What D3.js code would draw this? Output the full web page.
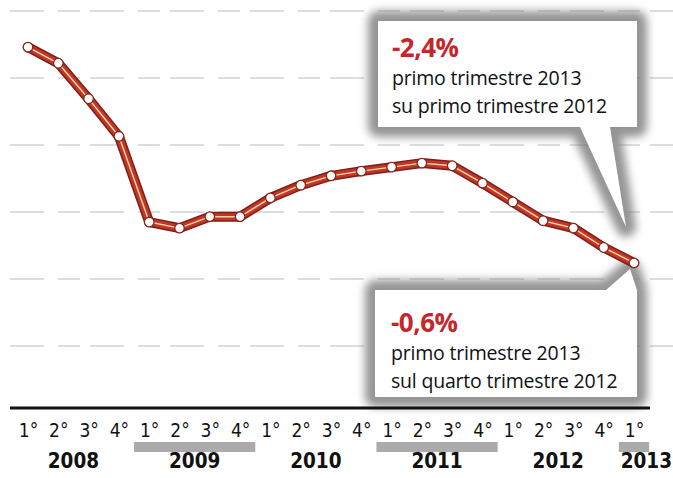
<!DOCTYPE html>
<html>
<head>
<meta charset="utf-8">
<script src="https://cdn.jsdelivr.net/npm/d3@7"></script>
<style>
  html, body { margin: 0; padding: 0; background: #ffffff; }
  svg { display: block; }
</style>
</head>
<body>
<svg id="chart" width="673" height="478"></svg>
<script>
// Italian GDP, quarterly (chained values, billions of euro, estimated)
const years = ["2008", "2009", "2010", "2011", "2012", "2013"];
const quarterLabels = ["1°", "2°", "3°", "4°"];
const quartersPerYear = [4, 4, 4, 4, 4, 1];
const gdp = [404.6, 402.2, 396.9, 391.3, 378.5, 377.6, 379.3, 379.3,
             382.1, 384.0, 385.4, 386.1, 386.7, 387.3, 386.9, 384.3,
             381.5, 378.7, 377.6, 374.7, 372.4];
const gridValues = [360, 370, 380, 390, 400, 410];
const highlightedYears = ["2009", "2011", "2013"];

// Callout texts
const calloutYear = { value: "-2,4%", lines: ["primo trimestre 2013", "su primo trimestre 2012"] };
const calloutQuarter = { value: "-0,6%", lines: ["primo trimestre 2013", "sul quarto trimestre 2012"] };

// Period keys ("2008-1", ...) built from the years and quarters
const periods = [];
years.forEach((yr, i) => {
  for (let q = 0; q < quartersPerYear[i]; q++) periods.push({ key: yr + "-" + (q + 1), year: yr, label: quarterLabels[q] });
});
const data = periods.map((p, i) => ({ ...p, value: gdp[i] }));

const W = 673, H = 478;
const svg = d3.select("#chart");

const x = d3.scalePoint().domain(periods.map(p => p.key)).range([28, 634]);
const y = d3.scaleLinear().domain([360, 410]).range([346, 11]);
const step = x.step();
const axisY = 408;

const defs = svg.append("defs");
defs.append("filter").attr("id", "soft").attr("x", "-20%").attr("y", "-30%").attr("width", "140%").attr("height", "160%")
  .append("feGaussianBlur").attr("stdDeviation", 4.5);

// Horizontal grid
svg.append("g").selectAll("line").data(gridValues).join("line")
  .attr("x1", 10).attr("x2", W)
  .attr("y1", d => y(d)).attr("y2", d => y(d))
  .attr("stroke", "#d2d2d2").attr("stroke-width", 1.6)
  .attr("stroke-dasharray", "34,14,22,10");

// Callout boxes with pointer towards the last quarter
const last = data[data.length - 1];
const lx = x(last.key), ly = y(last.value);

function drawCallout(cfg) {
  const g = svg.append("g");
  const shape = cfg.shape;
  g.append("path").attr("d", shape).attr("fill", "#7a7a7a")
    .attr("stroke", "#7a7a7a").attr("stroke-width", 20).attr("stroke-linejoin", "round")
    .attr("filter", "url(#soft)").attr("opacity", 0.8);
  g.append("path").attr("d", shape).attr("fill", "#ffffff");
  g.append("text").attr("x", cfg.tx).attr("y", cfg.ty)
    .attr("font-family", "'Open Sans', sans-serif").attr("font-weight", 700)
    .attr("font-size", 26).attr("letter-spacing", -0.5).attr("fill", "#c4262b").text(cfg.content.value);
  cfg.content.lines.forEach((t, i) => {
    g.append("text").attr("x", cfg.tx).attr("y", cfg.ty + 28 + i * 28)
      .attr("font-family", "'Open Sans', sans-serif")
      .attr("font-size", 19.5).attr("letter-spacing", -0.2).attr("fill", "#111").text(t);
  });
}

// top box: pointer from its bottom edge down to the last point
const topBox = { x0: 378, y0: 21, x1: 637, y1: 127 };
const topShape = d3.line()([
  [topBox.x0, topBox.y0], [topBox.x1, topBox.y0], [topBox.x1, topBox.y1],
  [610, topBox.y1], [lx - 8, ly - 36], [580, topBox.y1], [topBox.x0, topBox.y1]
]) + "Z";
drawCallout({ shape: topShape, tx: 392, ty: 57, content: calloutYear });

// bottom box: pointer from its top edge up to the last point
const botBox = { x0: 375, y0: 290, x1: 637, y1: 397 };
const botShape = d3.line()([
  [botBox.x0, botBox.y0], [606, botBox.y0], [lx - 4, ly + 6], [botBox.x1, botBox.y0],
  [botBox.x1, botBox.y1], [botBox.x0, botBox.y1]
]) + "Z";
drawCallout({ shape: botShape, tx: 391, ty: 332, content: calloutQuarter });

// GDP line: dark red casing, red body and a pale centre stripe
const line = d3.line().x(d => x(d.key)).y(d => y(d.value)).curve(d3.curveLinear);
const lineG = svg.append("g");
[["#7d1f16", 10], ["#c2352a", 7], ["#f3d9a0", 1.4]].forEach(([c, w]) => {
  lineG.append("path").datum(data).attr("d", line)
    .attr("fill", "none").attr("stroke", c).attr("stroke-width", w)
    .attr("stroke-linejoin", "round").attr("stroke-linecap", "round");
});
lineG.selectAll("circle").data(data).join("circle")
  .attr("cx", d => x(d.key)).attr("cy", d => y(d.value)).attr("r", 4.8)
  .attr("fill", "#ffffff").attr("stroke", "#8a2418").attr("stroke-width", 1.3);

// Baseline
svg.append("line").attr("x1", 10).attr("x2", 650).attr("y1", axisY).attr("y2", axisY)
  .attr("stroke", "#111").attr("stroke-width", 3);

// Quarter labels via a bottom axis
const xAxis = d3.axisBottom(x).tickSize(0).tickPadding(0)
  .tickFormat(k => periods.find(p => p.key === k).label);
const axG = svg.append("g").attr("transform", `translate(0,${axisY})`).call(xAxis);
axG.select(".domain").remove();
axG.selectAll("text")
  .attr("dy", null).attr("y", 29)
  .attr("font-family", "'DejaVu Sans Condensed', 'DejaVu Sans', sans-serif")
  .attr("font-size", 19).attr("fill", "#111");

// Year groups: grey band for alternate years and the bold year label
const yearGroups = years.map(yr => {
  const ks = periods.filter(p => p.year === yr).map(p => x(p.key));
  return { year: yr, x0: d3.min(ks) - step / 2, x1: d3.max(ks) + step / 2, c: (d3.min(ks) + d3.max(ks)) / 2 };
});
svg.append("g").selectAll("rect").data(yearGroups.filter(d => highlightedYears.includes(d.year))).join("rect")
  .attr("x", d => d.x0).attr("width", d => d.x1 - d.x0)
  .attr("y", 442).attr("height", 10).attr("fill", "#ababab");
svg.append("g").selectAll("text").data(yearGroups).join("text")
  .attr("x", (d, i) => i === yearGroups.length - 1 ? W - 1 : d.c)
  .attr("y", 468)
  .attr("text-anchor", (d, i) => i === yearGroups.length - 1 ? "end" : "middle")
  .attr("font-family", "'DejaVu Sans Condensed', 'DejaVu Sans', sans-serif")
  .attr("font-weight", 700).attr("font-size", 20.5).attr("fill", "#111")
  .text(d => d.year);
</script>
</body>
</html>
